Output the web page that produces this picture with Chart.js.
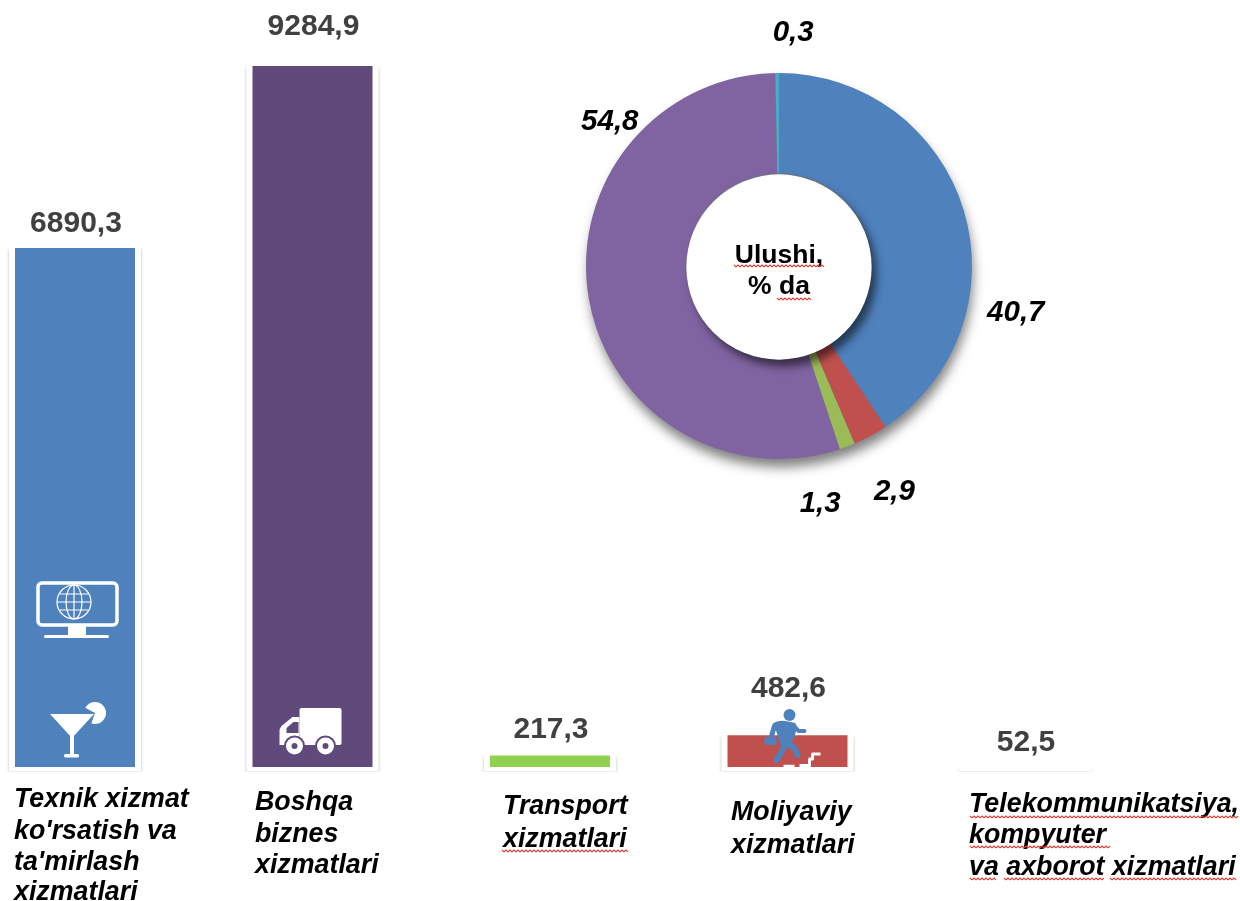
<!DOCTYPE html>
<html><head><meta charset="utf-8">
<script src="https://cdn.jsdelivr.net/npm/chart.js@4"></script>
<style>
html,body{margin:0;padding:0;background:#fff;overflow:hidden}
canvas{position:absolute;display:block}
#bars{left:0;top:0}
#ring{left:509px;top:0}
</style></head><body>
<canvas id="bars" width="1240" height="901"></canvas>
<canvas id="ring" width="540" height="532"></canvas>
<script>
const categories = [
  ["Texnik xizmat","ko'rsatish va","ta'mirlash","xizmatlari"],
  ["Boshqa","biznes","xizmatlari"],
  ["Transport","xizmatlari"],
  ["Moliyaviy","xizmatlari"],
  ["Telekommunikatsiya,","kompyuter","va axborot xizmatlari"]
];
const barValues = [6890.3, 9284.9, 217.3, 482.6, 52.5];
const barColors = ["#4F81BD", "#604A7B", "#92D050", "#C0504D", "#FFFFFF"];
const ringLabels = ["Texnik xizmat","Moliyaviy","Transport","Boshqa biznes","Telekommunikatsiya"];
const ringValues = [40.7, 2.9, 1.3, 54.8, 0.3];
const ringColors = ["#4F81BD", "#C0504D", "#9BBB59", "#8064A2", "#4BACC6"];
const centerLines = ["Ulushi,", "% da"];

const fmt = v => v.toFixed(1).replace(".", ",");

// label placement, kept apart from the data
const valueLift = [20, 35, 22, 43, 21];
const catPlace = [
  {x:14, y:[807,839,870,900]},
  {x:255,y:[810,842,873]},
  {x:503,y:[814,847]},
  {x:731,y:[820,853]},
  {x:969,y:[812,843,875]}
];
const squiggles = [[502,628,850],[970,1238,816],[970,1110,846],[970,997,878],[1004,1105,878],[1110,1236,878]];
const ringOffsets = [[52,102],[24,56],[-27,57],[21,-177],[16,-40]];

function squiggle(ctx,x0,x1,y){
  ctx.save();ctx.strokeStyle="#E8392F";ctx.lineWidth=1.1;ctx.beginPath();
  let up=false;ctx.moveTo(x0,y);
  for(let x=x0+2;x<=x1;x+=2){ctx.lineTo(x,up?y:y+1.8);up=!up;}
  ctx.stroke();ctx.restore();
}
function line(ctx,pts,w,col,cap){
  ctx.save();ctx.strokeStyle=col;ctx.lineWidth=w;ctx.lineCap=cap||"round";ctx.lineJoin="round";
  ctx.beginPath();pts.forEach((p,i)=>i?ctx.lineTo(p[0],p[1]):ctx.moveTo(p[0],p[1]));ctx.stroke();ctx.restore();
}
function monitor(ctx){
  ctx.strokeStyle="#fff";ctx.fillStyle="#fff";ctx.lineWidth=3.5;
  ctx.beginPath();ctx.roundRect(-37,583,79,42,4);ctx.stroke();
  ctx.fillRect(-7,626,18,9);
  ctx.beginPath();ctx.roundRect(-31,635,65,3,1.5);ctx.fill();
  ctx.lineWidth=1.2;
  const cx=-1,cy=602,r=17;
  ctx.beginPath();ctx.arc(cx,cy,r,0,Math.PI*2);ctx.stroke();
  ctx.beginPath();ctx.ellipse(cx,cy,8,r,0,0,Math.PI*2);ctx.stroke();
  ctx.beginPath();ctx.moveTo(cx,cy-r);ctx.lineTo(cx,cy+r);
  ctx.moveTo(cx-r,cy);ctx.lineTo(cx+r,cy);
  ctx.moveTo(cx-14,cy-8);ctx.lineTo(cx+14,cy-8);
  ctx.moveTo(cx-14,cy+8);ctx.lineTo(cx+14,cy+8);ctx.stroke();
}
function cocktail(ctx,bg){
  ctx.fillStyle="#fff";
  ctx.beginPath();ctx.arc(20,713,11,0,Math.PI*2);ctx.fill();
  ctx.fillStyle=bg;
  ctx.beginPath();ctx.moveTo(20,713);ctx.lineTo(5,705);ctx.lineTo(5,730);ctx.lineTo(14,730);ctx.closePath();ctx.fill();
  ctx.fillStyle="#fff";
  ctx.beginPath();ctx.moveTo(-25,714);ctx.lineTo(19,714);ctx.lineTo(-3,738);ctx.closePath();ctx.fill();
  ctx.fillRect(-5,736,4,19);
  ctx.beginPath();ctx.roundRect(-11,754,15,3.5,1.5);ctx.fill();
}
function truck(ctx,bg){
  ctx.fillStyle="#fff";
  ctx.beginPath();ctx.roundRect(-13,708,42,37,2);ctx.fill();
  ctx.beginPath();ctx.moveTo(-13,717);ctx.lineTo(-20,717);ctx.lineTo(-31,726);ctx.quadraticCurveTo(-33,728,-33,732);ctx.lineTo(-33,745);ctx.lineTo(-13,745);ctx.closePath();ctx.fill();
  ctx.fillStyle=bg;
  ctx.beginPath();ctx.moveTo(-14,722);ctx.lineTo(-19,722);ctx.lineTo(-26,728);ctx.lineTo(-26,733);ctx.lineTo(-14,733);ctx.closePath();ctx.fill();
  [-18,13].forEach(x=>{
    ctx.fillStyle=bg;ctx.beginPath();ctx.arc(x,746,10.5,0,Math.PI*2);ctx.fill();
    ctx.fillStyle="#fff";ctx.beginPath();ctx.arc(x,746,8.5,0,Math.PI*2);ctx.fill();
    ctx.fillStyle=bg;ctx.beginPath();ctx.arc(x,746,3,0,Math.PI*2);ctx.fill();
  });
}
function runner(ctx){
  const c="#4F81BD";
  ctx.fillStyle=c;
  ctx.beginPath();ctx.arc(2,715,6,0,Math.PI*2);ctx.fill();
  ctx.beginPath();ctx.moveTo(-15,724);ctx.quadraticCurveTo(-10,720,-2,721);ctx.lineTo(8,723);ctx.lineTo(9,730);ctx.lineTo(4,745);ctx.lineTo(-7,745);ctx.lineTo(-11,732);ctx.closePath();ctx.fill();
  line(ctx,[[6,725],[11,731],[17,731]],4,c);
  line(ctx,[[-13,726],[-16,736]],5,c);
  ctx.beginPath();ctx.roundRect(-23,737,12,8,1);ctx.fill();
  line(ctx,[[-2,743],[7,748],[10,755]],6,c);
  line(ctx,[[-3,745],[-6,752],[-11,760]],6,c);
  line(ctx,[[-4,766],[7,766]],2.5,"#fff","butt");
  line(ctx,[[12,765.5],[22,765.5],[22,759],[34,754]].slice(0,3),3,"#fff","butt");
  line(ctx,[[21,759],[25,759],[25,754],[33,754]],3,"#fff","butt");
}

const barFrame = {
  id:"barFrame",
  beforeDatasetsDraw(chart){
    const ctx=chart.ctx;
    chart.getDatasetMeta(0).data.forEach(b=>{
      ctx.save();
      ctx.beginPath();ctx.rect(b.x-75,b.y-6,150,b.base+3.5-b.y+6);ctx.clip();
      ctx.shadowColor="rgba(0,0,0,0.3)";ctx.shadowBlur=3;ctx.shadowOffsetY=3;
      ctx.fillStyle="#fff";
      ctx.beginPath();ctx.roundRect(b.x-66,b.y,132,b.base-b.y+12,5);ctx.fill();
      ctx.restore();
    });
  },
  afterDatasetsDraw(chart){
    const ctx=chart.ctx, bars=chart.getDatasetMeta(0).data;
    const draw=(i,fn)=>{ctx.save();ctx.translate(bars[i].x,0);fn(ctx,barColors[i]);ctx.restore();};
    draw(0,monitor);draw(0,cocktail);draw(1,truck);draw(3,runner);
    ctx.save();
    ctx.textAlign="center";ctx.textBaseline="middle";
    ctx.font="bold 30px 'Liberation Sans'";ctx.fillStyle="#404040";
    bars.forEach((b,i)=>ctx.fillText(fmt(barValues[i]),b.x+1,b.y-valueLift[i]));
    ctx.textAlign="left";ctx.textBaseline="alphabetic";
    ctx.font="italic bold 26.8px 'Liberation Sans'";ctx.fillStyle="#000";
    categories.forEach((lines,i)=>lines.forEach((t,j)=>ctx.fillText(t,catPlace[i].x,catPlace[i].y[j])));
    ctx.restore();
    squiggles.forEach(s=>squiggle(ctx,s[0],s[1],s[2]));
  }
};

new Chart(document.getElementById("bars"),{
  type:"bar",
  data:{labels:categories.map(c=>c.join(" ")),datasets:[{
    data:barValues,backgroundColor:barColors,borderColor:"#fff",
    borderWidth:{top:4,left:6,right:6,bottom:1},borderSkipped:false,
    barThickness:132,clip:false,inflateAmount:0
  }]},
  options:{
    responsive:false,animation:false,
    layout:{padding:{left:75,right:215,top:62,bottom:133}},
    plugins:{legend:{display:false},tooltip:{enabled:false},title:{display:false}},
    scales:{
      x:{display:false,offset:false,grid:{display:false}},
      y:{display:false,min:0,max:9284.9,grid:{display:false}}
    }
  },
  plugins:[barFrame]
});

const ringDecor = {
  id:"ringDecor",
  beforeDatasetsDraw(chart){
    const ctx=chart.ctx,a=chart.getDatasetMeta(0).data[0];
    ctx.save();
    ctx.shadowColor="rgba(0,0,0,0.5)";ctx.shadowBlur=12;ctx.shadowOffsetX=2;ctx.shadowOffsetY=9;
    ctx.fillStyle="#777";
    ctx.beginPath();ctx.arc(a.x,a.y,a.outerRadius-1,0,Math.PI*2);ctx.fill();
    ctx.restore();
  },
  afterDatasetsDraw(chart){
    const ctx=chart.ctx,arcs=chart.getDatasetMeta(0).data,a=arcs[0];
    ctx.save();
    ctx.shadowColor="rgba(0,0,0,0.55)";ctx.shadowBlur=9;ctx.shadowOffsetX=5;ctx.shadowOffsetY=7;
    ctx.fillStyle="#fff";
    ctx.beginPath();ctx.arc(a.x,a.y+1,a.innerRadius,0,Math.PI*2);ctx.fill();
    ctx.restore();
    ctx.save();
    ctx.fillStyle="#000";ctx.textAlign="center";ctx.textBaseline="middle";
    ctx.font="bold 26.5px 'Liberation Sans'";
    ctx.fillText(centerLines[0],a.x,256);
    ctx.fillText(centerLines[1],a.x,287);
    ctx.font="italic bold 29.5px 'Liberation Sans'";
    arcs.forEach((arc,i)=>{
      const m=(arc.startAngle+arc.endAngle)/2;
      const x=arc.x+Math.cos(m)*arc.outerRadius+ringOffsets[i][0];
      const y=arc.y+Math.sin(m)*arc.outerRadius+ringOffsets[i][1];
      ctx.fillText(fmt(ringValues[i]),x,y);
    });
    ctx.restore();
    squiggle(ctx,a.x-45,a.x+45,265);
    squiggle(ctx,a.x-2,a.x+32,298);
  }
};

new Chart(document.getElementById("ring"),{
  type:"doughnut",
  data:{labels:ringLabels,datasets:[{data:ringValues,backgroundColor:ringColors,borderWidth:0}]},
  options:{
    responsive:false,animation:false,radius:193,cutout:"48%",rotation:0,
    plugins:{legend:{display:false},tooltip:{enabled:false},title:{display:false}}
  },
  plugins:[ringDecor]
});
</script>
</body></html>
